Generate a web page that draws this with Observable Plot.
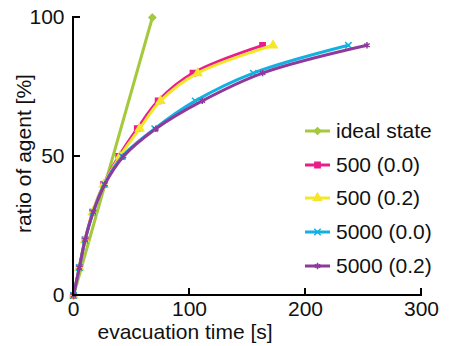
<!DOCTYPE html>
<html>
<head>
<meta charset="utf-8">
<script src="https://cdn.jsdelivr.net/npm/d3@7"></script>
<script src="https://cdn.jsdelivr.net/npm/@observablehq/plot@0.6"></script>
<style>
  html, body { margin: 0; padding: 0; background: #fff; }
  #wrap { position: relative; width: 454px; height: 346px; font-family: "Liberation Sans", Arial, sans-serif; }
  #legend { position: absolute; left: 305px; top: 114px; font-size: 21px; color: #111; }
  .row { display: flex; align-items: center; height: 33.7px; }
  .row svg { margin-right: 5px; }
</style>
</head>
<body>
<div id="wrap"></div>
<script>
// ---- data ----
const seriesNames = ["ideal state", "500 (0.0)", "500 (0.2)", "5000 (0.0)", "5000 (0.2)"];
const seriesColors = ["#a4c93c", "#e91e8c", "#f5e62b", "#13b1e2", "#8e3a9c"];
const seriesSymbols = ["diamond2", "square", "triangle", "times", "asterisk"];

const idealRatio = [0, 100];
const idealTime = [0, 68];

const ratioSteps = [0, 10, 20, 30, 40, 50, 60, 70, 80, 90];
const time500_00 = [0, 5, 10, 16.5, 26, 39, 55, 73, 103, 163];
const time500_02 = [0, 5, 10, 16.5, 26, 40, 57, 75, 107, 172];
const time5000_00 = [0, 5, 10, 17, 26.5, 42, 70, 105, 155, 237];
const time5000_02 = [0, 5, 10, 17, 27, 43, 71, 111, 163, 253];

const xTicks = [0, 100, 200, 300];
const yTicks = [0, 50, 100];
const xLabel = "evacuation time [s]";
const yLabel = "ratio of agent [%]";

// ---- build table ----
const rows = [];
idealTime.forEach((t, i) => rows.push({series: seriesNames[0], time: t, ratio: idealRatio[i]}));
[time500_00, time500_02, time5000_00, time5000_02].forEach((arr, k) => {
  arr.forEach((t, i) => rows.push({series: seriesNames[k + 1], time: t, ratio: ratioSteps[i]}));
});

const colorOf = Object.fromEntries(seriesNames.map((n, i) => [n, seriesColors[i]]));
const symbolOf = Object.fromEntries(seriesNames.map((n, i) => [n, seriesSymbols[i]]));

const marks = [];
for (const name of seriesNames) {
  const data = rows.filter(d => d.series === name);
  marks.push(Plot.line(data, {x: "time", y: "ratio", stroke: colorOf[name], strokeWidth: 3, curve: "catmull-rom"}));
  marks.push(Plot.dot(data, {x: "time", y: "ratio", stroke: colorOf[name], fill: colorOf[name], symbol: symbolOf[name], r: 3, strokeWidth: 1.5}));
}

const chart = Plot.plot({
  width: 454,
  height: 346,
  marginLeft: 73,
  marginRight: 33,
  marginTop: 17,
  marginBottom: 51,
  style: {fontFamily: "'Liberation Sans', Arial, sans-serif", fontSize: "21px", color: "#111", background: "#fff"},
  x: {type: "linear", domain: [0, 300]},
  y: {type: "linear", domain: [0, 100]},
  marks: [
    Plot.axisX(xTicks, {tickSize: 0, tickPadding: 6, label: null, fontSize: 21}),
    Plot.axisY(yTicks, {tickSize: 0, tickPadding: 9, label: null, fontSize: 21}),
    ...marks,
    Plot.text([xLabel], {frameAnchor: "bottom-left", dx: 24, dy: 43, lineAnchor: "bottom", textAnchor: "start", fontSize: 21, fill: "#111"}),
    Plot.text([yLabel], {frameAnchor: "left", dx: -49, dy: -3, rotate: -90, textAnchor: "middle", lineAnchor: "middle", fontSize: 21, fill: "#111"})
  ]
});
document.getElementById("wrap").appendChild(chart);

// inward ticks and axis lines, positioned through the chart's scales
const svg = d3.select(chart);
const xs = chart.scale("x"), ys = chart.scale("y");
const g = svg.append("g").attr("stroke", "#000").attr("stroke-width", 2);
xTicks.forEach(t => g.append("line").attr("x1", xs.apply(t)).attr("x2", xs.apply(t)).attr("y1", ys.apply(0)).attr("y2", ys.apply(0) - 7));
yTicks.forEach(t => g.append("line").attr("x1", xs.apply(0)).attr("x2", xs.apply(0) + 7).attr("y1", ys.apply(t)).attr("y2", ys.apply(t)));
g.append("line").attr("x1", xs.apply(0)).attr("x2", xs.apply(0)).attr("y1", ys.apply(0) + 1).attr("y2", ys.apply(100) - 1);
g.append("line").attr("x1", xs.apply(0) - 1).attr("x2", xs.apply(300) + 1).attr("y1", ys.apply(0)).attr("y2", ys.apply(0));

// legend
const d3Symbols = {diamond2: d3.symbolDiamond2, square: d3.symbolSquare, triangle: d3.symbolTriangle, times: d3.symbolTimes, asterisk: d3.symbolAsterisk};
const legend = document.createElement("div");
legend.id = "legend";
seriesNames.forEach((name, i) => {
  const row = document.createElement("div");
  row.className = "row";
  const s = d3.create("svg").attr("width", 26).attr("height", 14);
  s.append("line").attr("x1", 0).attr("x2", 25).attr("y1", 7).attr("y2", 7).attr("stroke", seriesColors[i]).attr("stroke-width", 3);
  s.append("path").attr("transform", "translate(12.5,7)")
    .attr("d", d3.symbol(d3Symbols[seriesSymbols[i]], 28)())
    .attr("fill", seriesColors[i]).attr("stroke", seriesColors[i]).attr("stroke-width", 1.5);
  row.appendChild(s.node());
  const span = document.createElement("span");
  span.textContent = name;
  row.appendChild(span);
  legend.appendChild(row);
});
document.getElementById("wrap").appendChild(legend);
</script>
</body>
</html>
